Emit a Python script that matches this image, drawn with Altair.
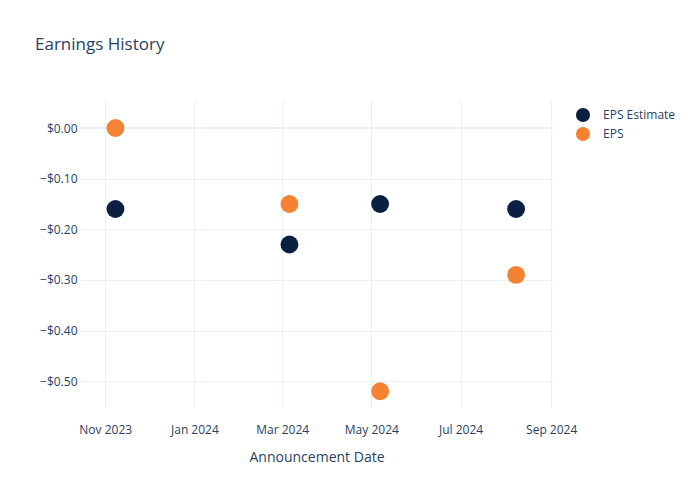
import altair as alt
import pandas as pd

dates = ["2023-11-08", "2024-03-06", "2024-05-07", "2024-08-08"]
eps_estimate = [-0.16, -0.23, -0.15, -0.16]
eps_actual = [0.00, -0.15, -0.52, -0.29]
series = ["EPS Estimate", "EPS"]
colors = ["#0b1f43", "#f58233"]
y_ticks = [0.0, -0.1, -0.2, -0.3, -0.4, -0.5]

rows = []
for d, e in zip(dates, eps_estimate):
    rows.append({"date": d, "value": e, "series": "EPS Estimate"})
for d, a in zip(dates, eps_actual):
    rows.append({"date": d, "value": a, "series": "EPS"})
df = pd.DataFrame(rows)

text_color = "#2a3f5f"
grid_color = "#ebf0f8"
font = "Open Sans"

x_values = [
    alt.DateTime(year=2023, month=11, date=1, utc=True),
    alt.DateTime(year=2024, month=1, date=1, utc=True),
    alt.DateTime(year=2024, month=3, date=1, utc=True),
    alt.DateTime(year=2024, month=5, date=1, utc=True),
    alt.DateTime(year=2024, month=7, date=1, utc=True),
    alt.DateTime(year=2024, month=9, date=1, utc=True),
]

x_enc = alt.X(
    "date:T",
    title="Announcement Date",
    scale=alt.Scale(
        type="utc",
        domain=[
            alt.DateTime(year=2023, month=10, date=14, hours=18, utc=True),
            alt.DateTime(year=2024, month=9, date=2, hours=6, utc=True),
        ],
    ),
    axis=alt.Axis(
        values=x_values,
        labelExpr="utcFormat(datum.value, '%b %Y')",
        ticks=False,
        domain=False,
        grid=True,
        gridColor=grid_color,
        labelPadding=16,
        labelFontSize=12,
        labelColor=text_color,
        labelFont=font,
        titleFont=font,
        titleFontSize=14,
        titleFontWeight="normal",
        titleColor=text_color,
        titlePadding=15,
    ),
)

y_enc = alt.Y(
    "value:Q",
    title=None,
    scale=alt.Scale(domain=[-0.553, 0.0553], nice=False, zero=False),
    axis=alt.Axis(
        values=y_ticks,
        format="$.2f",
        ticks=False,
        domain=False,
        grid=True,
        gridColor=grid_color,
        labelPadding=3,
        labelFontSize=12,
        labelColor=text_color,
        labelFont=font,
    ),
)

zero_rule = alt.Chart(pd.DataFrame({"y": [0.0]})).mark_rule(
    color=grid_color, strokeWidth=2
).encode(y=alt.Y("y:Q", scale=alt.Scale(domain=[-0.553, 0.0553], nice=False, zero=False)))

points = alt.Chart(df).mark_circle(size=320, opacity=1).encode(
    x=x_enc,
    y=y_enc,
    color=alt.Color(
        "series:N",
        scale=alt.Scale(domain=series, range=colors),
        legend=alt.Legend(
            title=None,
            orient="none",
            legendX=495,
            legendY=7,
            symbolSize=200,
            symbolType="circle",
            symbolOpacity=1,
            labelFontSize=12,
            labelColor=text_color,
            labelFont=font,
            rowPadding=3,
            labelOffset=12,
        ),
    ),
)

chart = (
    alt.layer(zero_rule, points)
    .properties(
        width=473,
        height=308,
        autosize=alt.AutoSizeParams(type="none"),
        padding={"left": 80, "top": 100, "right": 147, "bottom": 92},
        background="white",
        title=alt.TitleParams(
            "Earnings History",
            anchor="start",
            frame="group",
            dx=-45,
            offset=33,
            baseline="alphabetic",
            fontSize=17,
            font=font,
            fontWeight="normal",
            color=text_color,
        ),
    )
    .configure_view(stroke=None)
)

chart.save("out.html", embed_options={"renderer": "svg", "actions": False})
